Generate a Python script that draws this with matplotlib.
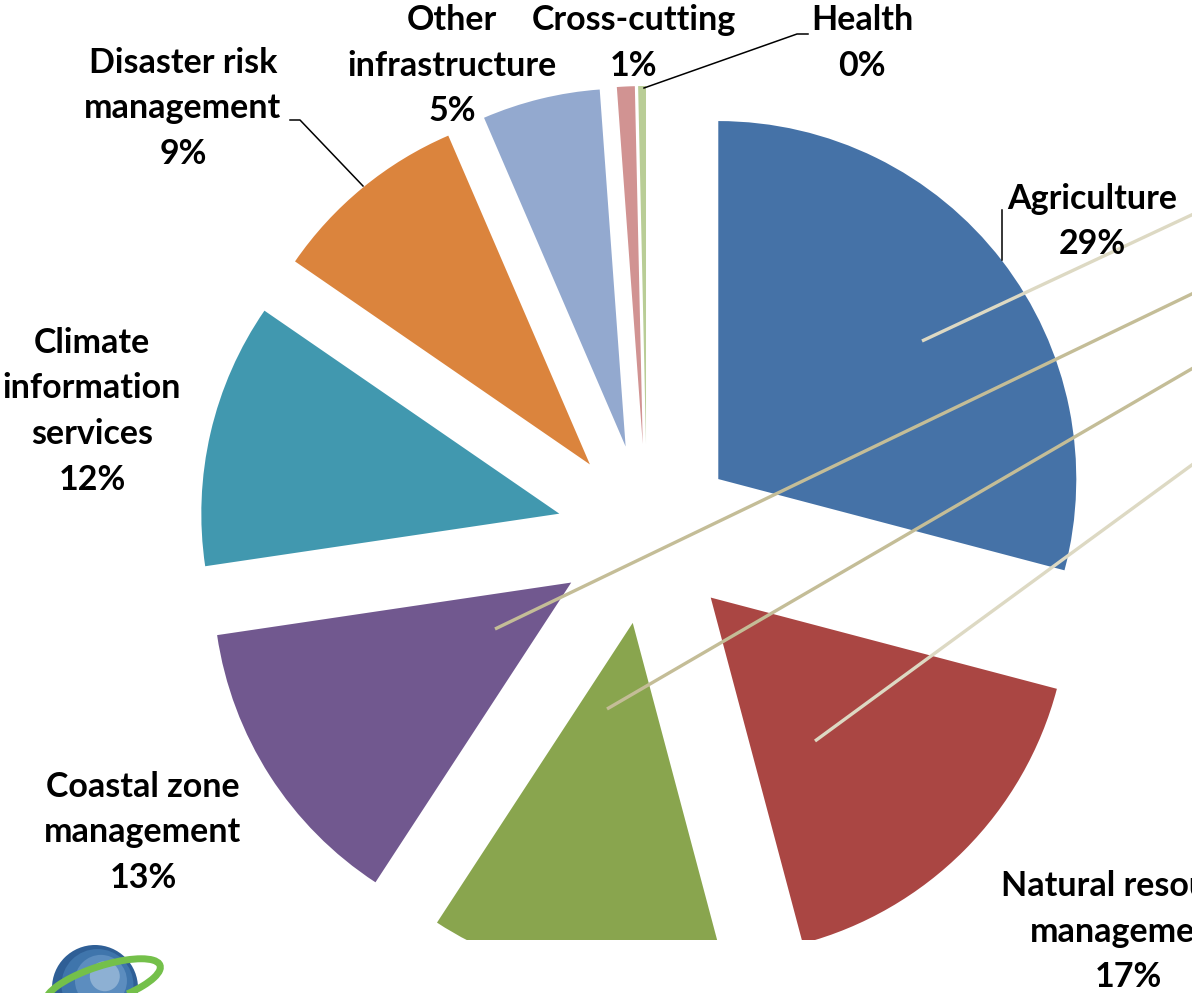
import matplotlib
matplotlib.use("Agg")
import matplotlib.pyplot as plt
from matplotlib.patches import Rectangle, Circle, Arc

# ---- data ----
categories = ["Agriculture", "Natural resource management", "Water", "Coastal zone management",
              "Climate information services", "Disaster risk management", "Other infrastructure",
              "Cross-cutting", "Health"]
shares = [29.0, 16.7, 13.3, 13.4, 11.9, 8.9, 5.3, 0.8, 0.35]
pct_labels = ["29%", "17%", "13%", "13%", "12%", "9%", "5%", "1%", "0%"]
colors = ["#4572A7", "#AA4643", "#89A54E", "#71588F", "#4198AF",
          "#DB843D", "#93A9CF", "#D19392", "#B9CD96"]

W, H = 1192, 993
fig = plt.figure(figsize=(W / 100, H / 100), dpi=100)
ax = fig.add_axes([0, 0, 1, 1])

def Y(py):
    return H - py

center = (647, Y(534))
R = 358
wedges, _ = ax.pie(shares, explode=[90] * len(shares), radius=R, center=center,
                   startangle=90, counterclock=False, colors=colors,
                   wedgeprops=dict(linewidth=0))
ax.set_xlim(0, W)
ax.set_ylim(0, H)
ax.set_aspect("auto")
ax.axis("off")

clip = Rectangle((-50, Y(940)), W + 100, 2000, transform=ax.transData)
for w in wedges:
    w.set_clip_on(True)
    w.set_clip_path(clip)

# reference lines crossing the chart (from off-chart labels)
beige_light = "#DDD9C3"
beige_dark = "#C4BD97"
ref_lines = [((922, 341), (1200, 211), beige_light),
             ((495, 629), (1200, 290), beige_dark),
             ((607, 709), (1200, 364), beige_dark),
             ((815, 741), (1200, 459), beige_light)]
for (x0, y0), (x1, y1), c in ref_lines:
    ax.plot([x0, x1], [Y(y0), Y(y1)], color=c, lw=2.4, solid_capstyle="butt", zorder=3)

# leader lines
lead = [[(290, 120), (300, 120), (363, 186)],
        [(808, 34), (797, 34), (644, 88)],
        [(1002, 210), (1002, 260)]]
for pts in lead:
    xs = [p[0] for p in pts]
    ys = [Y(p[1]) for p in pts]
    ax.plot(xs, ys, color="black", lw=1.1, zorder=4)

# labels: (lines, center x, first baseline)
font = dict(fontsize=24.5, fontweight="bold", family=["Lato", "DejaVu Sans"], color="black")
labels = [
    (["Agriculture", pct_labels[0]], 1092, 209),
    (["Natural resource", "management", pct_labels[1]], 1128, 896),
    (["Coastal zone", "management", pct_labels[3]], 143, 797),
    (["Climate", "information", "services", pct_labels[4]], 92, 353),
    (["Disaster risk", "management", pct_labels[5]], 183, 73),
    (["Other", "infrastructure", pct_labels[6]], 452, 30),
    (["Cross-cutting", pct_labels[7]], 634, 30),
    (["Health", pct_labels[8]], 862, 30),
]
step = 45.5
for lines, cx, by in labels:
    for i, t in enumerate(lines):
        ax.text(cx, Y(by + i * step), t, ha="center", va="baseline", zorder=5, **font)

# logo (globe with ring)
gc = (95, Y(988))
for r, c in [(43, "#2F5F96"), (36, "#3F75AC"), (26, "#5C8DBF"), (15, "#8DB0D3")]:
    off = (43 - r) * 0.35
    ax.add_patch(Circle((gc[0] + off, gc[1] + off * 1.2), r, facecolor=c,
                        edgecolor="none", zorder=6))
ax.add_patch(Arc((gc[0] + 8, gc[1] + 4), 120, 36, angle=18, theta1=-40, theta2=200,
                 color="#74C04A", lw=5, zorder=7))

fig.savefig("out.png", dpi=100)
